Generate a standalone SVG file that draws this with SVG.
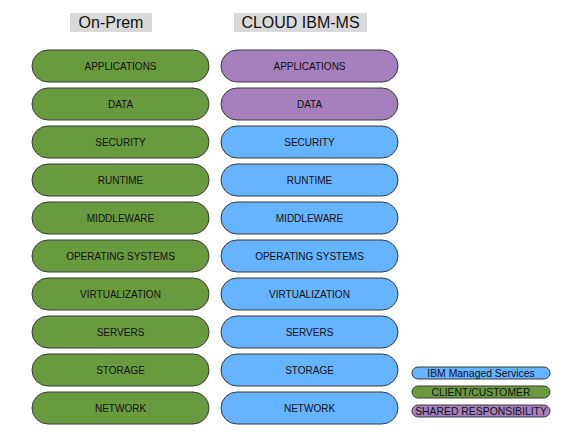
<svg xmlns="http://www.w3.org/2000/svg" width="576" height="443" viewBox="0 0 576 443">
<style>
.hdr{fill:#d9d9d9}
.ht{font-family:"Liberation Sans",Arial,sans-serif;font-size:16px;fill:#111;text-anchor:middle}
.p{stroke:#3a3a3a;stroke-width:1}
.g{fill:#6a9a3e}
.pu{fill:#a67fbd}
.b{fill:#66b3ff}
.t{font-family:"Liberation Sans",Arial,sans-serif;font-size:10px;fill:#111;text-anchor:middle}
.lt{font-family:"Liberation Sans",Arial,sans-serif;font-size:10.4px;fill:#111;text-anchor:middle}
</style>
<rect width="576" height="443" fill="#fff"/>
<g id="hdr-onprem"><rect class="hdr" x="70" y="13" width="82" height="19"/><text class="ht" x="111" y="28">On-Prem</text></g>
<g id="hdr-cloud"><rect class="hdr" x="234" y="13" width="133" height="19"/><text class="ht" x="300.5" y="28">CLOUD IBM-MS</text></g>
<g id="l0"><rect class="p g" x="32" y="50" width="177" height="32" rx="16"/><text class="t" x="120.5" y="69.5">APPLICATIONS</text></g>
<g id="l1"><rect class="p g" x="32" y="88" width="177" height="32" rx="16"/><text class="t" x="120.5" y="107.5">DATA</text></g>
<g id="l2"><rect class="p g" x="32" y="126" width="177" height="32" rx="16"/><text class="t" x="120.5" y="145.5">SECURITY</text></g>
<g id="l3"><rect class="p g" x="32" y="164" width="177" height="32" rx="16"/><text class="t" x="120.5" y="183.5">RUNTIME</text></g>
<g id="l4"><rect class="p g" x="32" y="202" width="177" height="32" rx="16"/><text class="t" x="120.5" y="221.5">MIDDLEWARE</text></g>
<g id="l5"><rect class="p g" x="32" y="240" width="177" height="32" rx="16"/><text class="t" x="120.5" y="259.5">OPERATING SYSTEMS</text></g>
<g id="l6"><rect class="p g" x="32" y="278" width="177" height="32" rx="16"/><text class="t" x="120.5" y="297.5">VIRTUALIZATION</text></g>
<g id="l7"><rect class="p g" x="32" y="316" width="177" height="32" rx="16"/><text class="t" x="120.5" y="335.5">SERVERS</text></g>
<g id="l8"><rect class="p g" x="32" y="354" width="177" height="32" rx="16"/><text class="t" x="120.5" y="373.5">STORAGE</text></g>
<g id="l9"><rect class="p g" x="32" y="392" width="177" height="32" rx="16"/><text class="t" x="120.5" y="411.5">NETWORK</text></g>
<g id="r0"><rect class="p pu" x="221" y="50" width="177" height="32" rx="16"/><text class="t" x="309.5" y="69.5">APPLICATIONS</text></g>
<g id="r1"><rect class="p pu" x="221" y="88" width="177" height="32" rx="16"/><text class="t" x="309.5" y="107.5">DATA</text></g>
<g id="r2"><rect class="p b" x="221" y="126" width="177" height="32" rx="16"/><text class="t" x="309.5" y="145.5">SECURITY</text></g>
<g id="r3"><rect class="p b" x="221" y="164" width="177" height="32" rx="16"/><text class="t" x="309.5" y="183.5">RUNTIME</text></g>
<g id="r4"><rect class="p b" x="221" y="202" width="177" height="32" rx="16"/><text class="t" x="309.5" y="221.5">MIDDLEWARE</text></g>
<g id="r5"><rect class="p b" x="221" y="240" width="177" height="32" rx="16"/><text class="t" x="309.5" y="259.5">OPERATING SYSTEMS</text></g>
<g id="r6"><rect class="p b" x="221" y="278" width="177" height="32" rx="16"/><text class="t" x="309.5" y="297.5">VIRTUALIZATION</text></g>
<g id="r7"><rect class="p b" x="221" y="316" width="177" height="32" rx="16"/><text class="t" x="309.5" y="335.5">SERVERS</text></g>
<g id="r8"><rect class="p b" x="221" y="354" width="177" height="32" rx="16"/><text class="t" x="309.5" y="373.5">STORAGE</text></g>
<g id="r9"><rect class="p b" x="221" y="392" width="177" height="32" rx="16"/><text class="t" x="309.5" y="411.5">NETWORK</text></g>
<g id="leg-ibm"><rect class="p b" x="412" y="367" width="138" height="12" rx="6"/><text class="lt" x="481" y="376.7">IBM Managed Services</text></g>
<g id="leg-client"><rect class="p g" x="412" y="386" width="138" height="12" rx="6"/><text class="lt" x="481" y="395.7">CLIENT/CUSTOMER</text></g>
<g id="leg-shared"><rect class="p pu" x="412" y="405" width="138" height="12" rx="6"/><text class="lt" x="481" y="414.7">SHARED RESPONSIBILITY</text></g>
<g id="connectors"></g>
</svg>
